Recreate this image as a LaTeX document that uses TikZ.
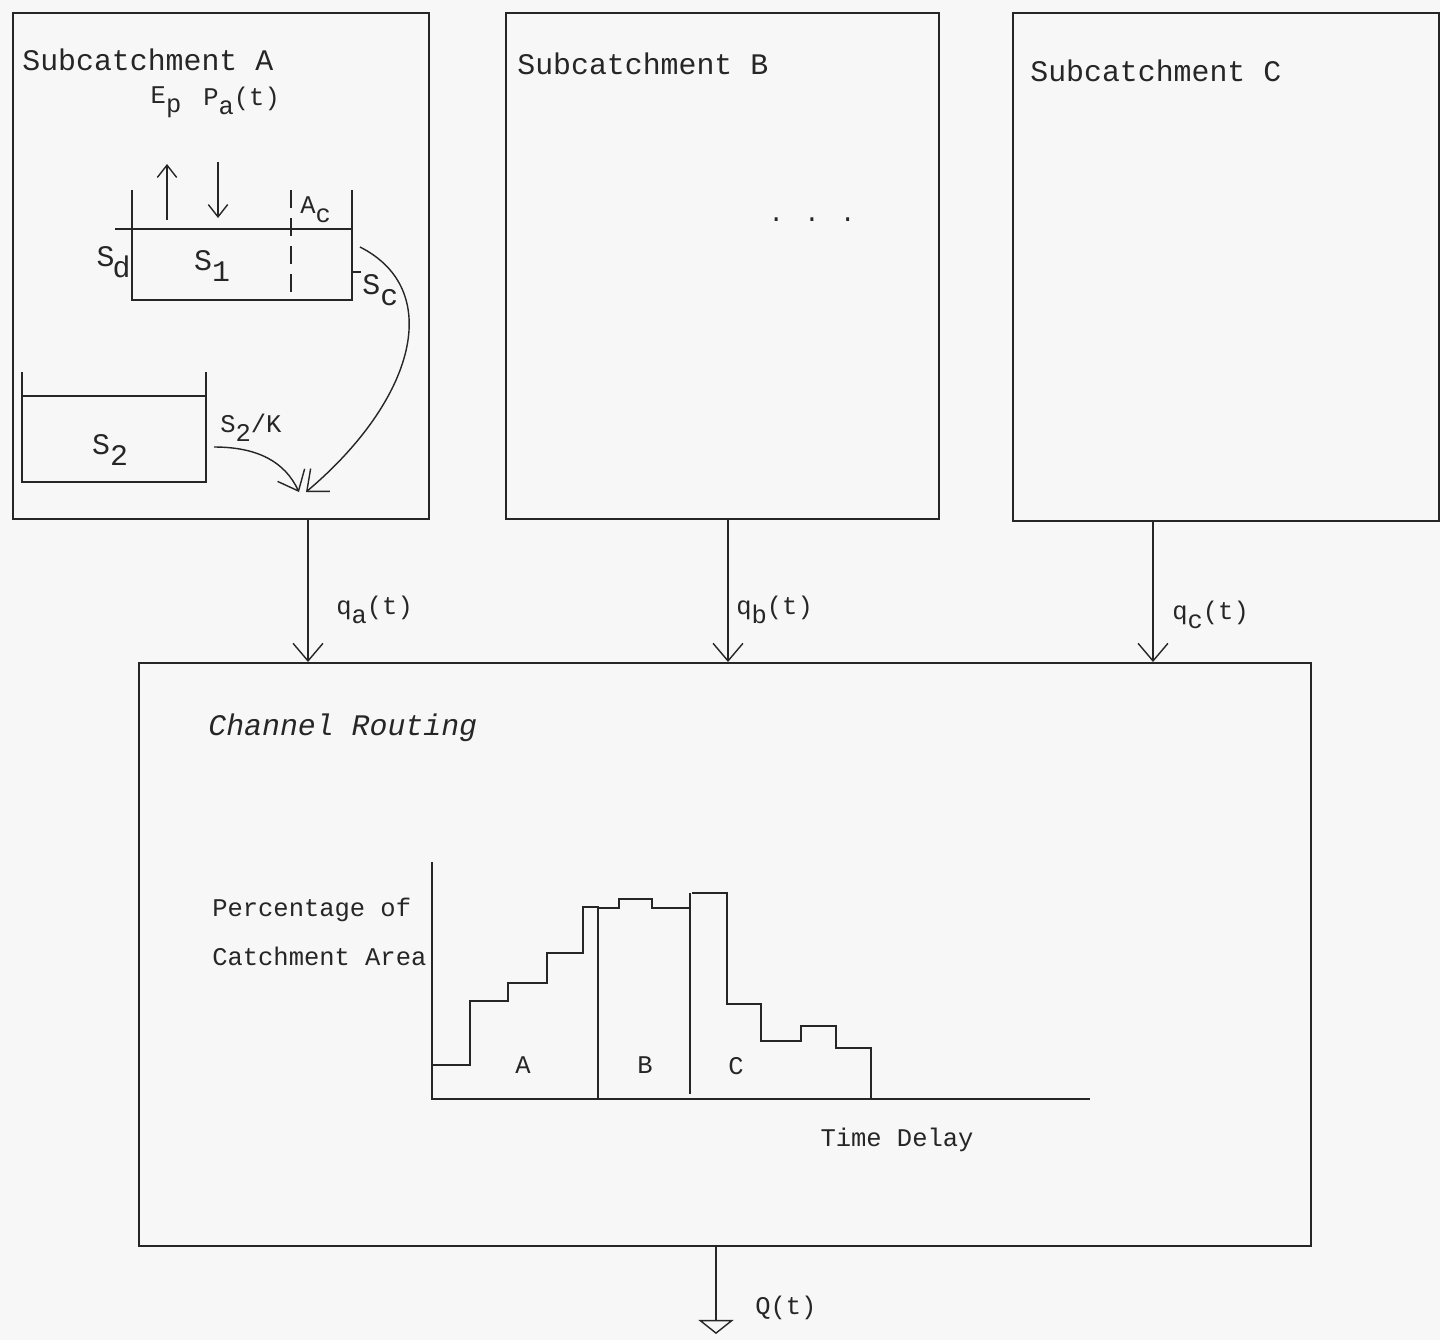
\documentclass[tikz,border=0pt]{standalone}
\usepackage{fontspec}
\setmainfont{Liberation Mono}
\usetikzlibrary{arrows.meta}
\newcommand{\subidx}[1]{\raisebox{-0.7ex}{#1}}
\tikzstyle{catchbox} = [rectangle, anchor=north west, inner sep=0pt, draw=black!85, line width=1.1pt]
\tikzstyle{txt} = [font=\fontsize{17}{20}\selectfont, inner sep=0pt, text=black!85]
\tikzstyle{smalltxt} = [font=\fontsize{14.5}{17}\selectfont, inner sep=0pt, text=black!85]
\tikzstyle{tank} = [line width=1.1pt, draw=black!85]
\tikzstyle{arrow} = [line width=0.8pt, draw=black!85, -{Straight Barb[length=10pt,width=17pt]}]
\tikzstyle{smallarrow} = [line width=0.8pt, draw=black!85, -{Straight Barb[length=7pt,width=11pt]}]
\tikzstyle{outarrow} = [line width=0.8pt, draw=black!85, -{Triangle[open,length=8pt,width=20pt]}]

\begin{document}
\begin{tikzpicture}[x=0.02cm, y=-0.02cm]
\fill[black!3] (0,0) rectangle (1440,1340);
\useasboundingbox (0,0) rectangle (1440,1340);

% subcatchment boxes
\node (subA) [catchbox, minimum width=8.32cm, minimum height=10.12cm] at (12,12) {};
\node (subB) [catchbox, minimum width=8.66cm, minimum height=10.12cm] at (505,12) {};
\node (subC) [catchbox, minimum width=8.52cm, minimum height=10.16cm] at (1012,12) {};
\node (route) [catchbox, minimum width=23.44cm, minimum height=11.66cm] at (138,662) {};

\node (titleA) [txt, anchor=west] at (22,60) {Subcatchment A};
\node (titleB) [txt, anchor=west] at (517,64) {Subcatchment B};
\node (titleC) [txt, anchor=west] at (1030,71) {Subcatchment C};
\node (dots) [smalltxt] at (812,220) {. . .};

% storage S1
\draw[tank] (132,190) -- (132,300) -- (352,300) -- (352,190);
\draw[tank] (115,229) -- (352,229);
\draw[tank, dash pattern=on 10pt off 6pt] (291,190) -- (291,300);
\draw[tank] (352,272) -- (361,272);
\node (s1) [txt] at (212,266) {S\subidx{1}};
\node (sd) [txt, anchor=east] at (131,262) {S\kern-1pt\subidx{d}};
\node (sc) [txt, anchor=west] at (362,290) {S\subidx{c}};
\node (ac) [smalltxt, anchor=west] at (300,210) {A\subidx{c}};
\node (ep) [smalltxt] at (166,102) {E\subidx{p}};
\node (pa) [smalltxt, anchor=west] at (203,101) {P\subidx{a}(t)};
\coordinate (evapin) at (167,220);
\coordinate (evapout) at (167,164);
\coordinate (rainin) at (218,162);
\coordinate (rainout) at (218,218);
\draw [smallarrow] (evapin) -- (evapout);
\draw [smallarrow] (rainin) -- (rainout);

% storage S2
\draw[tank] (22,372) -- (22,482) -- (206,482) -- (206,372);
\draw[tank] (22,396) -- (206,396);
\node (s2) [txt] at (110,450) {S\subidx{2}};
\node (s2k) [smalltxt, anchor=west] at (220,428) {S\subidx{2}/K};

% flows to outlet
\coordinate (outA) at (306,492);
\coordinate (s1out) at (360,247);
\coordinate (s2out) at (214,447);
\draw [arrow] (s1out) .. controls (445,290) and (415,400) .. (outA);
\draw [arrow] (s2out) .. controls (258,447) and (285,462) .. ([xshift=-4pt]outA);

% inflows to channel
\coordinate (inA) at (308,662);
\coordinate (inB) at (728,662);
\coordinate (inC) at (1153,662);
\draw [arrow] (subA.south -| inA) -- (inA);
\draw [arrow] (subB.south -| inB) -- (inB);
\draw [arrow] (subC.south -| inC) -- (inC);
\node (qa) [smalltxt, anchor=west] at (336,610) {q\subidx{a}(t)};
\node (qb) [smalltxt, anchor=west] at (736,610) {q\subidx{b}(t)};
\node (qc) [smalltxt, anchor=west] at (1172,615) {q\subidx{c}(t)};

% channel routing
\node (routetitle) [txt, anchor=west, font=\fontsize{17}{20}\selectfont\itshape] at (208,728) {Channel Routing};
\node (ylab1) [smalltxt, anchor=west] at (212,910) {Percentage of};
\node (ylab2) [smalltxt, anchor=west] at (212,956) {Catchment Area};
\node (xlab) [smalltxt] at (897,1140) {Time Delay};
\draw[tank] (432,862) -- (432,1099) -- (1090,1099);
\draw[tank] (432,1065) -- (470,1065) -- (470,1001) -- (508,1001) -- (508,983) -- (547,983)
  -- (547,953) -- (583,953) -- (583,907) -- (598,907) -- (598,1099);
\draw[tank] (598,908) -- (619,908) -- (619,899) -- (652,899) -- (652,908) -- (690,908);
\draw[tank] (690,1094) -- (690,893);
\draw[tank] (692,893) -- (727,893) -- (727,1004) -- (761,1004) -- (761,1041) -- (801,1041)
  -- (801,1026) -- (836,1026) -- (836,1048) -- (871,1048) -- (871,1099);
\node (barA) [smalltxt] at (523,1065) {A};
\node (barB) [smalltxt] at (645,1065) {B};
\node (barC) [smalltxt] at (736,1066) {C};

% outflow
\coordinate (outQ) at (716,1334);
\draw [outarrow] (route.south -| outQ) -- (outQ);
\node (qout) [smalltxt, anchor=west] at (755,1308) {Q(t)};

\end{tikzpicture}
\end{document}
